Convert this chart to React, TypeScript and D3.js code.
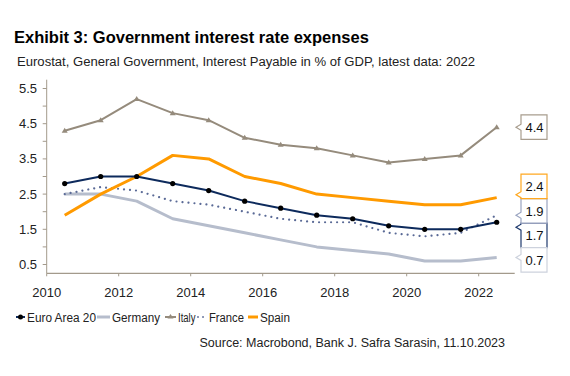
import React from "react";
import * as d3 from "d3";

const years = [2010, 2011, 2012, 2013, 2014, 2015, 2016, 2017, 2018, 2019, 2020, 2021, 2022];
const euroArea = [2.8, 3.0, 3.0, 2.8, 2.6, 2.3, 2.1, 1.9, 1.8, 1.6, 1.5, 1.5, 1.7];
const germany = [2.5, 2.5, 2.3, 1.8, 1.6, 1.4, 1.2, 1.0, 0.9, 0.8, 0.6, 0.6, 0.7];
const italy = [4.3, 4.6, 5.2, 4.8, 4.6, 4.1, 3.9, 3.8, 3.6, 3.4, 3.5, 3.6, 4.4];
const france = [2.5, 2.7, 2.6, 2.3, 2.2, 2.0, 1.8, 1.7, 1.7, 1.4, 1.3, 1.4, 1.9];
const spain = [1.9, 2.5, 3.0, 3.6, 3.5, 3.0, 2.8, 2.5, 2.4, 2.3, 2.2, 2.2, 2.4];
const yTickLabels = [0.5, 1.5, 2.5, 3.5, 4.5, 5.5];
const xTickLabels = [2010, 2012, 2014, 2016, 2018, 2020, 2022];

const FONT = "'Liberation Sans', Arial, sans-serif";
const AXIS = "#a39a8c";

type Series = { name: string; values: number[]; color: string; width: number; dash?: string; marker?: "dot" | "tri"; box: string };

const series: Series[] = [
  { name: "Euro Area 20", values: euroArea, color: "#0d2a5c", width: 2, marker: "dot", box: "#1f3a6e" },
  { name: "Germany", values: germany, color: "#b6bdcc", width: 3, box: "#cdd2dd" },
  { name: "Italy", values: italy, color: "#958b7c", width: 2, marker: "tri", box: "#a89d8e" },
  { name: "France", values: france, color: "#5a6a96", width: 2.2, dash: "0.01 6", box: "#9aa4c0" },
  { name: "Spain", values: spain, color: "#ff9a00", width: 3, box: "#ffa820" },
];
const drawOrder = [1, 3, 2, 4, 0];

const x = d3.scaleLinear().domain([2010, 2023]).range([46.7, 514.7]);
const y = d3.scaleLinear().domain([0.25, 5.75]).range([273.3, 79.7]);

function layoutLabels(centers: number[], h: number) {
  const items = centers.map((c, i) => ({ i, c })).sort((a, b) => a.c - b.c);
  let clusters = items.map((it) => ({ members: [it], mean: it.c }));
  let changed = true;
  while (changed) {
    changed = false;
    for (let k = 0; k < clusters.length - 1; k++) {
      const a = clusters[k], b = clusters[k + 1];
      const aBottom = a.mean + (a.members.length * h) / 2;
      const bTop = b.mean - (b.members.length * h) / 2;
      if (aBottom > bTop) {
        const members = [...a.members, ...b.members];
        const mean = d3.mean(members, (m) => m.c)!;
        clusters.splice(k, 2, { members, mean });
        changed = true;
        break;
      }
    }
  }
  const out: number[] = new Array(centers.length);
  clusters.forEach((cl) => {
    const n = cl.members.length;
    cl.members.forEach((m, j) => {
      out[m.i] = cl.mean - (n * h) / 2 + h / 2 + j * h;
    });
  });
  return out;
}

export default function App() {
  const xm = (yr: number) => x(yr + 0.5);
  const line = (vals: number[]) =>
    d3.line<number>().x((_, i) => xm(years[i])).y((v) => y(v))(vals) || "";

  const last = series.map((s) => s.values[s.values.length - 1]);
  const boxH = 24.5;
  const centers = layoutLabels(last.map((v) => y(v)), boxH);
  const bx0 = 521, bx1 = 547, tip = 516;

  const legendItems = [
    { s: 0, x: 16, tx: 27, w: 69 },
    { s: 1, x: 97, tx: 112, w: 48 },
    { s: 2, x: 165, tx: 178, w: 17.5 },
    { s: 3, x: 197, tx: 209, w: 35 },
    { s: 4, x: 248, tx: 260, w: 30 },
  ];

  return (
    <svg width={570} height={376} style={{ position: "absolute", left: 0, top: 0, background: "#fff" }} fontFamily={FONT}>
      <text x={14} y={43} fontSize={16.5} fontWeight="bold" fill="#000">Exhibit 3: Government interest rate expenses</text>
      <text x={17} y={65.5} fontSize={12.5} fill="#222" textLength={458} lengthAdjust="spacingAndGlyphs">Eurostat, General Government, Interest Payable in % of GDP, latest data: 2022</text>

      {/* axes */}
      <line x1={x(2010)} x2={x(2010)} y1={y(5.75)} y2={y(0.25)} stroke={AXIS} strokeWidth={1} />
      <line x1={x(2010)} x2={x(2023)} y1={y(0.25)} y2={y(0.25)} stroke={AXIS} strokeWidth={1.2} />
      {d3.range(0.5, 5.51, 0.5).map((v) => (
        <line key={"yt" + v} x1={x(2010) - 4} x2={x(2010)} y1={y(v)} y2={y(v)} stroke={AXIS} />
      ))}
      {yTickLabels.map((v) => (
        <text key={"yl" + v} x={37} y={y(v) + 4.5} fontSize={13} textAnchor="end" fill="#222">{v.toFixed(1)}</text>
      ))}
      {xTickLabels.map((v) => (
        <g key={"xl" + v}>
          <line x1={x(v)} x2={x(v)} y1={y(0.25)} y2={y(0.25) + 3} stroke={AXIS} />
          <text x={x(v)} y={297} fontSize={13} textAnchor="middle" fill="#222">{v}</text>
        </g>
      ))}

      {/* lines */}
      {drawOrder.map((si) => {
        const s = series[si];
        return (
          <g key={s.name}>
            <path d={line(s.values)} fill="none" stroke={s.color} strokeWidth={s.width} strokeDasharray={s.dash} strokeLinecap={s.dash ? "round" : "butt"} strokeLinejoin="round" />
            {s.marker === "dot" && s.values.map((v, i) => <circle key={i} cx={xm(years[i])} cy={y(v)} r={2.6} fill="#000" />)}
            {s.marker === "tri" && s.values.map((v, i) => (
              <path key={i} d={`M${xm(years[i])},${y(v) - 3}L${xm(years[i]) + 3},${y(v) + 2}L${xm(years[i]) - 3},${y(v) + 2}Z`} fill={s.color} />
            ))}
          </g>
        );
      })}

      {/* end labels */}
      {series.map((s, i) => {
        const cy = centers[i];
        const top = cy - boxH / 2, bot = cy + boxH / 2;
        const py = Math.max(top + 4, Math.min(bot - 4, y(last[i])));
        const d = `M${bx0},${top}H${bx1}V${bot}H${bx0}V${py + 3}L${tip},${py}L${bx0},${py - 3}Z`;
        return (
          <g key={"lab" + s.name}>
            <path d={d} fill="#fff" stroke={s.box} strokeWidth={1.2} />
            <text x={(bx0 + bx1) / 2 + 0.5} y={cy + 4.8} fontSize={13} textAnchor="middle" fill="#111">{last[i].toFixed(1)}</text>
          </g>
        );
      })}

      {/* legend */}
      {legendItems.map((li) => {
        const s = series[li.s];
        const ly = 317;
        return (
          <g key={"lg" + s.name}>
            {s.dash ? (
              <path d={`M${li.x + 1},${ly}H${li.x + 10}`} stroke={s.color} strokeWidth={1.8} strokeDasharray="0.01 5" strokeLinecap="round" />
            ) : (
              <line x1={li.x} x2={li.tx - 2} y1={ly} y2={ly} stroke={s.color} strokeWidth={s.width} />
            )}
            {s.marker === "dot" && <circle cx={(li.x + li.tx - 2) / 2} cy={ly} r={2.5} fill="#000" />}
            {s.marker === "tri" && <path d={`M${(li.x + li.tx - 2) / 2},${ly - 3}l3,4.5h-6Z`} fill={s.color} />}
            <text x={li.tx} y={ly + 4.5} fontSize={12.5} fill="#222" textLength={li.w} lengthAdjust="spacingAndGlyphs">{s.name}</text>
          </g>
        );
      })}

      <text x={505} y={347} fontSize={12.5} textAnchor="end" fill="#222">Source: Macrobond, Bank J. Safra Sarasin, 11.10.2023</text>
    </svg>
  );
}
